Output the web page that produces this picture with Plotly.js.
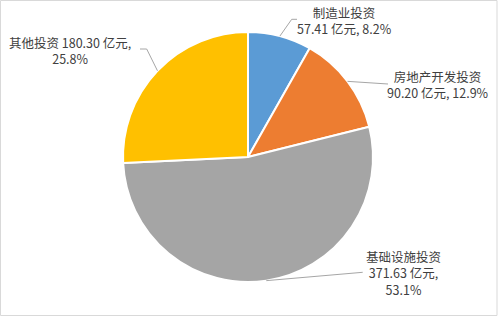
<!DOCTYPE html>
<html>
<head>
<meta charset="utf-8">
<script src="https://cdn.plot.ly/plotly-3.0.1.min.js"></script>
<style>html,body{margin:0;padding:0;background:#fff;}#chart{width:498px;height:317px;}</style>
</head>
<body>
<div id="chart"></div>
<script>
// ---- data ----
const categories = ["制造业投资", "房地产开发投资", "基础设施投资", "其他投资"];
const values = [57.41, 90.20, 371.63, 180.30];
const percents = ["8.2%", "12.9%", "53.1%", "25.8%"];
const unit = "亿元";
const colors = ["#5B9BD5", "#ED7D31", "#A5A5A5", "#FFC000"];

// ---- layout constants (pixels) ----
const W = 498, H = 317;
const cx = 248, cy = 157, R = 125;
// label block centre, leader elbow and end points
const labelCfg = [
  {tx: 344, ty: 20, elbow: [291.7, 19.3], end: [297, 19.3]},
  {tx: 438, ty: 84, elbow: null, end: [388, 84]},
  {tx: 403, ty: 273, elbow: null, end: [362.7, 272.3]},
  {tx: 70, ty: 50, elbow: [146.7, 49], end: [140, 49]}
];
const labelText = [
  c => `${categories[0]}<br>${values[0].toFixed(2)} ${unit}, ${percents[0]}`,
  c => `${categories[1]}<br>${values[1].toFixed(2)} ${unit}, ${percents[1]}`,
  c => `${categories[2]}<br>${values[2].toFixed(2)} ${unit},<br>${percents[2]}`,
  c => `${categories[3]} ${values[3].toFixed(2)} ${unit},<br>${percents[3]}`
];

const px = x => x / W;
const py = y => 1 - y / H;

const total = values.reduce((a, b) => a + b, 0);
let cum = 0;
const shapes = [];
const annotations = [];
values.forEach((v, i) => {
  const mid = (cum + v / 2) / total * 2 * Math.PI;
  cum += v;
  const ax = cx + R * Math.sin(mid), ay = cy - R * Math.cos(mid);
  const cfg = labelCfg[i];
  let path = `M ${px(ax)},${py(ay)}`;
  if (cfg.elbow) path += ` L ${px(cfg.elbow[0])},${py(cfg.elbow[1])}`;
  path += ` L ${px(cfg.end[0])},${py(cfg.end[1])}`;
  shapes.push({type: 'path', xref: 'paper', yref: 'paper', path: path,
    line: {color: '#A6A6A6', width: 1}});
  annotations.push({xref: 'paper', yref: 'paper', x: px(cfg.tx), y: py(cfg.ty),
    xanchor: 'center', yanchor: 'middle', showarrow: false, align: 'center',
    text: labelText[i](), font: {size: 12.5, color: '#404040',
    family: '"Noto Sans CJK SC", "Microsoft YaHei", sans-serif'}});
});
shapes.push({type: 'rect', xref: 'paper', yref: 'paper',
  x0: px(0.5), x1: px(497), y0: py(315.5), y1: py(0.5),
  line: {color: '#D9D9D9', width: 1}});

const trace = {
  type: 'pie', labels: categories, values: values, sort: false,
  direction: 'clockwise', rotation: 0, textinfo: 'none', hoverinfo: 'none',
  marker: {colors: colors, line: {color: '#FFFFFF', width: 2}},
  domain: {x: [px(cx - R), px(cx + R)], y: [py(cy + R), py(cy - R)]},
  showlegend: false
};

Plotly.newPlot('chart', [trace], {
  width: W, height: H, margin: {l: 0, r: 0, t: 0, b: 0},
  paper_bgcolor: '#FFFFFF', showlegend: false,
  shapes: shapes, annotations: annotations
}, {staticPlot: true});
</script>
</body>
</html>
